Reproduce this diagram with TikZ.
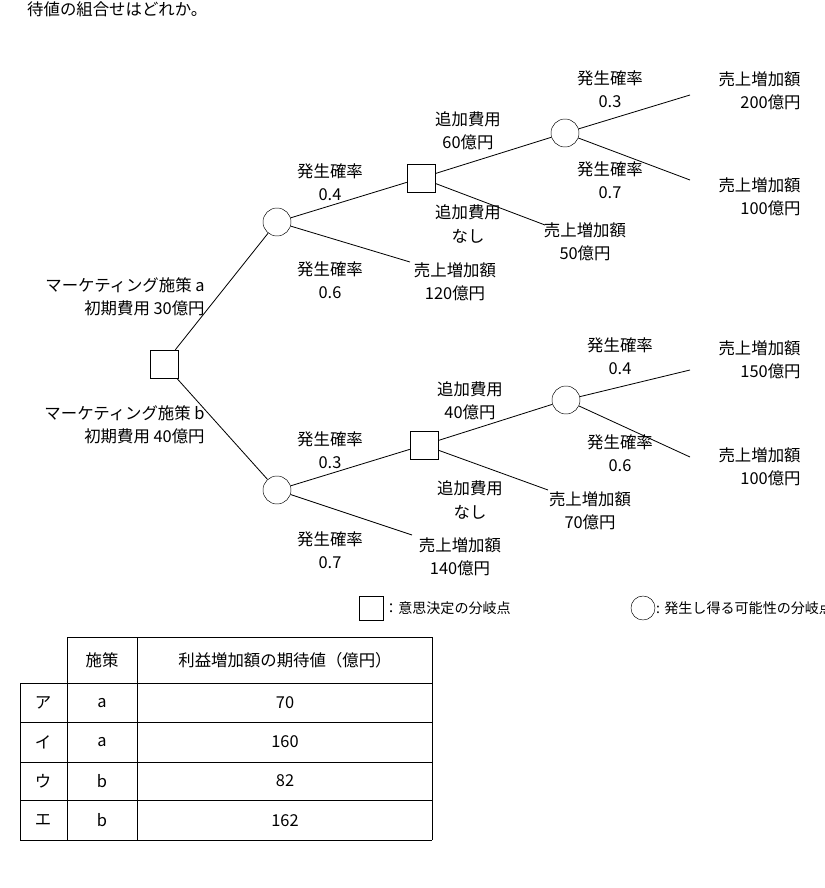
\documentclass[tikz,border=0pt]{standalone}
\usepackage{fontspec}
\setmainfont{Noto Sans CJK JP}
\begin{document}
\begin{tikzpicture}[x=0.03cm,y=-0.03cm,
  dec/.style={draw,minimum size=0.84cm,inner sep=0pt},
  chc/.style={draw,circle,minimum size=0.84cm,inner sep=0pt},
  lbl/.style={align=center,font=\fontsize{14}{20}\selectfont,inner sep=1pt},
  lblr/.style={align=right,font=\fontsize{14}{20}\selectfont,inner sep=1pt},
  leg/.style={font=\fontsize{12}{14}\selectfont,inner sep=0pt},
  tree/.style={line width=0.7pt}]
\useasboundingbox (0,0) rectangle (825,888);
\node[anchor=north west,font=\fontsize{14}{16}\selectfont,inner sep=0pt] (title) at (27,1) {待値の組合せはどれか。};
% nodes
\node[dec] (root) at (164,364) {};
\node[chc] (cA) at (277,222) {};
\node[dec] (dA) at (421,178) {};
\node[chc] (cA2) at (565,133) {};
\node[chc] (cB) at (277,490) {};
\node[dec] (dB) at (424,445) {};
\node[chc] (cB2) at (566,400) {};
\coordinate (eA1) at (690,95);
\coordinate (eA2) at (690,180);
\coordinate (eA3) at (545,225);
\coordinate (eA4) at (410,262);
\coordinate (eB1) at (690,370);
\coordinate (eB2) at (690,457);
\coordinate (eB3) at (548,490);
\coordinate (eB4) at (412,535);
% connectors
\draw[tree] (root) -- (cA);
\draw[tree] (root) -- (cB);
\draw[tree] (cA) -- (dA);
\draw[tree] (cA) -- (eA4);
\draw[tree] (dA) -- (cA2);
\draw[tree] (dA) -- (eA3);
\draw[tree] (cA2) -- (eA1);
\draw[tree] (cA2) -- (eA2);
\draw[tree] (cB) -- (dB);
\draw[tree] (cB) -- (eB4);
\draw[tree] (dB) -- (cB2);
\draw[tree] (dB) -- (eB3);
\draw[tree] (cB2) -- (eB1);
\draw[tree] (cB2) -- (eB2);
% labels
\node[lblr,anchor=east] (pa) at (206,297) {マーケティング施策 a\\初期費用 30億円};
\node[lblr,anchor=east] (pb) at (206,425) {マーケティング施策 b\\初期費用 40億円};
\node[lbl] (pA1) at (330,182) {発生確率\\0.4};
\node[lbl] (pA2) at (330,280) {発生確率\\0.6};
\node[lbl] (kA1) at (468,131) {追加費用\\60億円};
\node[lbl] (kA2) at (468,224) {追加費用\\なし};
\node[lbl] (pA3) at (610,89) {発生確率\\0.3};
\node[lbl] (pA4) at (610,180) {発生確率\\0.7};
\node[lblr,anchor=east] (uA1) at (802,91) {売上増加額\\200億円};
\node[lblr,anchor=east] (uA2) at (802,197) {売上増加額\\100億円};
\node[lbl] (uA3) at (585,242) {売上増加額\\50億円};
\node[lbl] (uA4) at (455,282) {売上増加額\\120億円};
\node[lbl] (pB1) at (330,450) {発生確率\\0.3};
\node[lbl] (pB2) at (330,550) {発生確率\\0.7};
\node[lbl] (kB1) at (470,401) {追加費用\\40億円};
\node[lbl] (kB2) at (470,500) {追加費用\\なし};
\node[lbl] (pB3) at (620,356) {発生確率\\0.4};
\node[lbl] (pB4) at (620,453) {発生確率\\0.6};
\node[lblr,anchor=east] (uB1) at (802,360) {売上増加額\\150億円};
\node[lblr,anchor=east] (uB2) at (802,467) {売上増加額\\100億円};
\node[lbl] (uB3) at (590,511) {売上増加額\\70億円};
\node[lbl] (uB4) at (460,557) {売上増加額\\140億円};
% legend
\node[draw,minimum size=0.72cm,inner sep=0pt] (legD) at (371,608) {};
\node[leg,anchor=west] (legDt) at (384,608) {：意思決定の分岐点};
\node[draw,circle,minimum size=0.72cm,inner sep=0pt] (legC) at (643,608) {};
\node[leg,anchor=west] (legCt) at (656,608) {: 発生し得る可能性の分岐点};
% table
\draw (67,637) -- (432,637);
\draw (20,683) -- (432,683);
\foreach \y in {722,762,800,840} \draw (20,\y) -- (432,\y);
\draw (20,683) -- (20,840);
\foreach \x in {67,137,432} \draw (\x,637) -- (\x,840);
\node[lbl] (h1) at (102,660) {施策};
\node[lbl] (h2) at (285,660) {利益増加額の期待値（億円）};
\foreach \k/\s/\v [count=\i] in {ア/a/70,イ/a/160,ウ/b/82,エ/b/162}{
  \node[lbl] (r\i k) at (43,{683+(\i-0.5)*39.25}) {\k};
  \node[lbl] (r\i s) at (102,{683+(\i-0.5)*39.25}) {\s};
  \node[lbl] (r\i v) at (285,{683+(\i-0.5)*39.25}) {\v};
}
\end{tikzpicture}
\end{document}
